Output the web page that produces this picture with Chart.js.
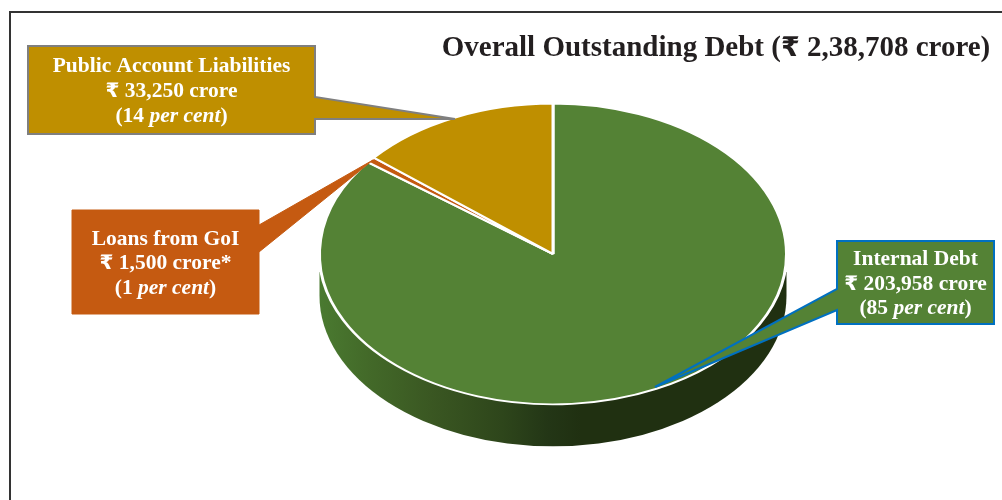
<!DOCTYPE html>
<html>
<head>
<meta charset="utf-8">
<title>Overall Outstanding Debt</title>
<script src="https://cdn.jsdelivr.net/npm/chart.js@4"></script>
<style>
    html, body { margin: 0; padding: 0; background: #fff; }
    #debtChart { display: block; }
</style>
</head>
<body>
<canvas id="debtChart" width="1002" height="500"></canvas>
<script>
// Debt figures in crore
const categories = ['Internal Debt', 'Loans from GoI', 'Public Account Liabilities'];
const debtValues = [203958, 1500, 33250];
const valueLabels = ['203,958', '1,500', '33,250'];
const valueNotes = ['', '*', ''];
const percentLabels = ['85', '1', '14'];
const sliceColors = ['#548235', '#c55a11', '#bf8f00'];
const chartTitle = 'Overall Outstanding Debt (';
const chartTitleTotal = ' 2,38,708 crore)';

const RUPEE = '\u20B9';
const SERIF = '"Liberation Serif", "Times New Roman", serif';
const TILT = 0.644;     // squash of the pie's circle into an ellipse
const DEPTH = 42;       // height of the pie's side wall
const WALL_START = 18;  // the wall only shows from this far below the pie's centre line

// Callout boxes, pointer is [top of base, bottom of base, tip]
const callouts = [
    { slice: 0, x: 837, y: 241, w: 157, h: 83, stroke: '#0070c0', lineWidth: 2,
      pointer: [[837, 289], [837, 310], [655, 387]], baselines: [265, 290, 314] },
    { slice: 1, x: 72, y: 210, w: 187, h: 104, stroke: '#c55a11', lineWidth: 1,
      pointer: [[259, 225], [259, 252], [373, 160]], baselines: [245, 269, 294] },
    { slice: 2, x: 28, y: 46, w: 287, h: 88, stroke: '#7f7f7f', lineWidth: 2,
      pointer: [[315, 97], [315, 119], [455, 119]], baselines: [72, 97, 122] }
];

// Draw a row of [text, font] pieces centred on cx
function drawRuns(ctx, runs, cx, baseline, color) {
    let total = 0;
    runs.forEach(r => {
        ctx.font = r[1];
        total += ctx.measureText(r[0]).width;
    });
    let x = cx - total / 2;
    ctx.textAlign = 'left';
    ctx.textBaseline = 'alphabetic';
    ctx.fillStyle = color;
    runs.forEach(r => {
        ctx.font = r[1];
        ctx.fillText(r[0], x, baseline);
        x += ctx.measureText(r[0]).width;
    });
}

function drawCallout(ctx, c) {
    const right = c.x + c.w, bottom = c.y + c.h;
    const p = c.pointer;
    ctx.beginPath();
    ctx.moveTo(c.x, c.y);
    if (p[0][0] === right) {
        // pointer leaves from the right side
        ctx.lineTo(right, c.y);
        ctx.lineTo(p[0][0], p[0][1]);
        ctx.lineTo(p[2][0], p[2][1]);
        ctx.lineTo(p[1][0], p[1][1]);
        ctx.lineTo(right, bottom);
        ctx.lineTo(c.x, bottom);
    } else {
        // pointer leaves from the left side
        ctx.lineTo(right, c.y);
        ctx.lineTo(right, bottom);
        ctx.lineTo(c.x, bottom);
        ctx.lineTo(p[1][0], p[1][1]);
        ctx.lineTo(p[2][0], p[2][1]);
        ctx.lineTo(p[0][0], p[0][1]);
    }
    ctx.closePath();
    ctx.fillStyle = sliceColors[c.slice];
    ctx.fill();
    ctx.strokeStyle = c.stroke;
    ctx.lineWidth = c.lineWidth;
    ctx.stroke();

    const cx = c.x + c.w / 2;
    const bold = 'bold 21.5px ' + SERIF;
    const rupee = 'bold 20px "DejaVu Sans"';
    const italic = 'italic bold 21.5px ' + SERIF;
    drawRuns(ctx, [[categories[c.slice], bold]], cx, c.baselines[0], '#fff');
    drawRuns(ctx, [[RUPEE, rupee], [' ' + valueLabels[c.slice] + ' crore' + valueNotes[c.slice], bold]], cx, c.baselines[1], '#fff');
    drawRuns(ctx, [['(' + percentLabels[c.slice] + ' ', bold], ['per cent', italic], [')', bold]], cx, c.baselines[2], '#fff');
}

const pie3d = {
    id: 'pie3d',
    beforeDraw(chart) {
        // page frame, open on the right and at the bottom
        const ctx = chart.ctx;
        ctx.save();
        ctx.fillStyle = '#fff';
        ctx.fillRect(0, 0, chart.width, chart.height);
        ctx.strokeStyle = '#333';
        ctx.lineWidth = 2;
        ctx.beginPath();
        ctx.moveTo(10, chart.height);
        ctx.lineTo(10, 12);
        ctx.lineTo(chart.width, 12);
        ctx.stroke();
        ctx.restore();
    },
    beforeDatasetsDraw(chart) {
        const ctx = chart.ctx;
        const arc = chart.getDatasetMeta(0).data[0];
        const r = arc.outerRadius;
        const ry = r * TILT;

        // side wall below the top face
        const wall = ctx.createLinearGradient(arc.x - r, 0, arc.x + r, 0);
        wall.addColorStop(0, '#4a7a30');
        wall.addColorStop(0.1, '#436a29');
        wall.addColorStop(0.24, '#3a5722');
        wall.addColorStop(0.39, '#2e461b');
        wall.addColorStop(0.49, '#233616');
        wall.addColorStop(0.56, '#203011');
        wall.addColorStop(1, '#203011');
        ctx.save();
        ctx.beginPath();
        ctx.moveTo(arc.x + r, arc.y + WALL_START);
        ctx.lineTo(arc.x + r, arc.y + DEPTH);
        ctx.ellipse(arc.x, arc.y + DEPTH, r, ry, 0, 0, Math.PI);
        ctx.lineTo(arc.x - r, arc.y + WALL_START);
        ctx.closePath();
        ctx.fillStyle = wall;
        ctx.fill();
        ctx.restore();

        // top face is the library's pie squashed around its centre
        ctx.save();
        ctx.translate(arc.x, arc.y);
        ctx.scale(1, TILT);
        ctx.translate(-arc.x, -arc.y);
    },
    afterDatasetsDraw(chart) {
        const ctx = chart.ctx;
        ctx.restore();

        ctx.save();
        callouts.forEach(c => drawCallout(ctx, c));
        const bold = 'bold 29px ' + SERIF;
        drawRuns(ctx, [[chartTitle, bold], [RUPEE, 'bold 27px "DejaVu Sans"'], [chartTitleTotal, bold]], 716, 56, '#231f20');
        ctx.restore();
    }
};

new Chart(document.getElementById('debtChart'), {
    type: 'pie',
    data: {
        labels: categories,
        datasets: [{
            data: debtValues,
            backgroundColor: sliceColors,
            borderColor: '#fff',
            borderWidth: 3
        }]
    },
    options: {
        responsive: false,
        animation: false,
        layout: { padding: { left: 318, right: 214, top: 19, bottom: 11 } },
        plugins: {
            legend: { display: false },
            tooltip: { enabled: false }
        }
    },
    plugins: [pie3d]
});
</script>
</body>
</html>
